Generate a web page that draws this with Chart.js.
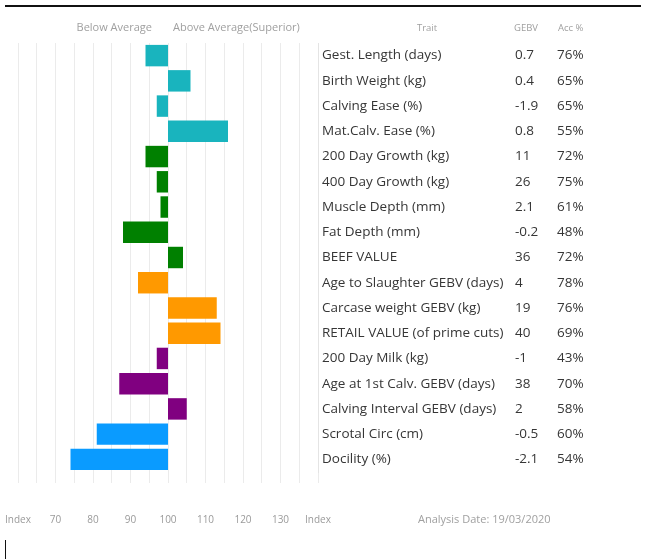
<!DOCTYPE html>
<html>
<head>
<meta charset="utf-8">
<script src="https://cdn.jsdelivr.net/npm/chart.js@4.4.0/dist/chart.umd.min.js"></script>
<style>
  html, body { margin: 0; padding: 0; background: #fff; }
  #wrap { width: 645px; height: 560px; position: relative; }
</style>
</head>
<body>
<div id="wrap"><canvas id="c" width="645" height="560"></canvas></div>
<script>
const traits = [
  "Gest. Length (days)", "Birth Weight (kg)", "Calving Ease (%)", "Mat.Calv. Ease (%)",
  "200 Day Growth (kg)", "400 Day Growth (kg)", "Muscle Depth (mm)", "Fat Depth (mm)",
  "BEEF VALUE", "Age to Slaughter GEBV (days)", "Carcase weight GEBV (kg)",
  "RETAIL VALUE (of prime cuts)", "200 Day Milk (kg)", "Age at 1st Calv. GEBV (days)",
  "Calving Interval GEBV (days)", "Scrotal Circ (cm)", "Docility (%)"
];
const indexValues = [94, 106, 97, 116, 94, 97, 98, 88, 104, 92, 113, 114, 97, 87, 105, 81, 74];
const gebv = ["0.7", "0.4", "-1.9", "0.8", "11", "26", "2.1", "-0.2", "36", "4", "19", "40", "-1", "38", "2", "-0.5", "-2.1"];
const acc = ["76%", "65%", "65%", "55%", "72%", "75%", "61%", "48%", "72%", "78%", "76%", "69%", "43%", "70%", "58%", "60%", "54%"];
const groups = ["calving", "calving", "calving", "calving", "growth", "growth", "growth", "growth", "growth",
  "carcase", "carcase", "carcase", "maternal", "maternal", "maternal", "other", "other"];
const groupColors = { calving: "#19B4BE", growth: "#008000", carcase: "#FF9900", maternal: "#800080", other: "#0A9BFF" };
const baseIndex = 100;
const axisMin = 60, axisMax = 140;
const axisEndLabel = "Index";
const headers = { below: "Below Average", above: "Above Average(Superior)", trait: "Trait", gebv: "GEBV", acc: "Acc %" };
const analysisDate = "Analysis Date: 19/03/2020";

const FONT = "'Open Sans', sans-serif";

const decor = {
  id: 'decor',
  afterDraw(chart) {
    const ctx = chart.ctx;
    const y = chart.scales.y;
    const x = chart.scales.x;
    ctx.save();
    ctx.fillStyle = '#111';
    ctx.fillRect(5, 5, 636, 2);
    ctx.fillRect(5, 540, 1, 19);
    ctx.fillStyle = '#a0a0a0';
    ctx.textBaseline = 'middle';
    ctx.font = "11px " + FONT;
    ctx.textAlign = 'right';
    ctx.fillText(headers.below, x.getPixelForValue(baseIndex) - 16, 28);
    ctx.textAlign = 'left';
    ctx.fillText(headers.above, x.getPixelForValue(baseIndex) + 5, 28);
    ctx.font = "9.5px " + FONT;
    ctx.textAlign = 'center';
    ctx.fillText(headers.trait, 427, 28);
    ctx.textAlign = 'left';
    ctx.fillText(headers.gebv, 514, 28);
    ctx.fillText(headers.acc, 558, 28);
    ctx.fillStyle = '#363636';
    ctx.font = "13.5px " + FONT;
    traits.forEach((t, i) => {
      const py = y.getPixelForTick(i);
      ctx.fillText(gebv[i], 515, py);
      ctx.fillText(acc[i], 557, py);
    });
    ctx.fillStyle = '#a0a0a0';
    ctx.font = "11px " + FONT;
    ctx.fillText(analysisDate, 418, 520);
    ctx.restore();
  }
};

new Chart(document.getElementById('c'), {
  type: 'bar',
  data: {
    labels: traits,
    datasets: [{
      data: indexValues.map(v => [baseIndex, v]),
      backgroundColor: groups.map(g => groupColors[g]),
      borderWidth: 0,
      barPercentage: 0.85,
      categoryPercentage: 1
    }]
  },
  options: {
    indexAxis: 'y',
    responsive: false,
    animation: false,
    layout: { padding: { left: 18, top: 43, right: 0, bottom: 0 } },
    plugins: { legend: { display: false }, tooltip: { enabled: false } },
    scales: {
      x: {
        min: axisMin, max: axisMax,
        border: { display: false },
        grid: { color: '#ebebeb', tickLength: 11, drawTicks: true, tickColor: '#ebebeb' },
        ticks: {
          stepSize: 5, autoSkip: false, maxRotation: 0, padding: 31,
          color: '#9a9a9a', font: { family: FONT, size: 10 },
          callback: v => (v === axisMin || v === axisMax) ? axisEndLabel : (v % 10 === 0 ? String(v) : '')
        },
        afterFit(scale) { scale.height = 88; scale.paddingLeft = 0; scale.paddingRight = 0; }
      },
      y: {
        position: 'right',
        border: { display: true, color: '#e4e4e4' },
        grid: { display: false, drawTicks: false },
        ticks: { crossAlign: 'near', padding: 4, color: '#363636', font: { family: FONT, size: 13.5 } },
        afterFit(scale) { scale.width = 327; }
      }
    }
  },
  plugins: [decor]
});
</script>
</body>
</html>
